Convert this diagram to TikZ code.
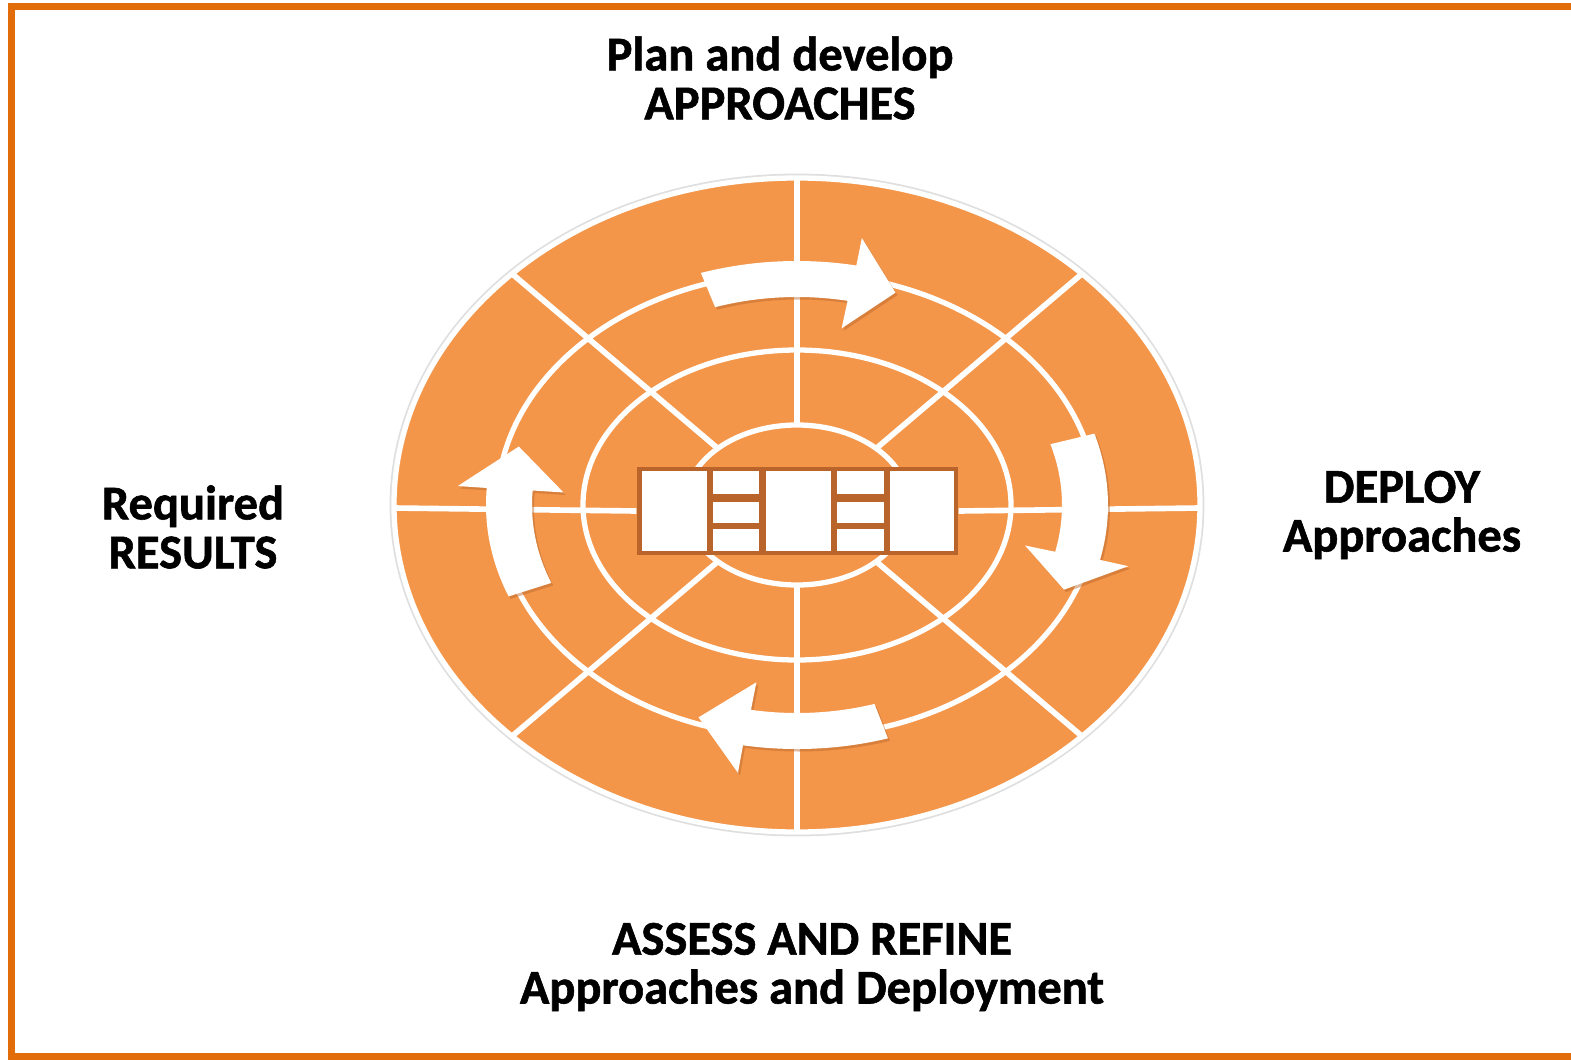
\documentclass[tikz,border=0pt]{standalone}
\usepackage{fontspec}
\setmainfont{Carlito}
\newfontfamily\labelfont[BoldFeatures={FakeBold=1.2}]{Carlito}
\usepackage{tikz}
\usetikzlibrary{positioning}
\definecolor{frameorange}{RGB}{227,108,10}
\definecolor{wheelorange}{RGB}{244,150,74}
\definecolor{hubbrown}{RGB}{184,100,42}

% curved block arrow on the middle track: start angle, head base angle, tip angle
\newcommand{\cyclearrow}[3]{%
  (#1:3.11 and 2.44) arc[start angle=#1, end angle=#2, x radius=3.11, y radius=2.44]
  -- (#2:3.40 and 2.72) -- (#3:2.88 and 2.26) -- (#2:2.34 and 1.80)
  -- (#2:2.65 and 2.08) arc[start angle=#2, end angle=#1, x radius=2.65, y radius=2.08]
  -- cycle}

\begin{document}
\begin{tikzpicture}[
    ringline/.style={draw=white, line width=1.5pt},
    spoke/.style={white, line width=1.6pt},
    lbl/.style={font=\labelfont\bfseries\fontsize{13.8}{13.9}\selectfont, align=center},
    cell/.style={fill=white},
    arrowshadow/.style={fill=hubbrown, opacity=0.45, shift={(0.02,-0.025)}},
  ]
    \useasboundingbox (-7.97,-5.54) rectangle (7.74,5.05);

    % frame
    \draw[frameorange, line width=0.07cm, line join=miter]
      (7.74,4.985) -- (-7.855,4.985) -- (-7.855,-5.515) -- (7.74,-5.515);

    % wheel and rings
    \draw[gray!25, line width=0.8pt] (0,0) ellipse[x radius=4.06, y radius=3.30];
    \fill[wheelorange, ringline] (0,0) ellipse[x radius=4.03, y radius=3.27];
    \draw[ringline] (0,0) ellipse[x radius=3.00, y radius=2.32];
    \draw[ringline] (0,0) ellipse[x radius=2.14, y radius=1.55];

    % spokes
    \draw[spoke] (0,0.80) -- (0,3.27) (0,-0.80) -- (0,-3.27);
    \draw[spoke] (45:1.12 and 0.80) -- (45:4.03 and 3.27)
                 (135:1.12 and 0.80) -- (135:4.03 and 3.27)
                 (225:1.12 and 0.80) -- (225:4.03 and 3.27)
                 (315:1.12 and 0.80) -- (315:4.03 and 3.27);
    \fill[wheelorange, ringline] (0,0) ellipse[x radius=1.12, y radius=0.80];

    % hub in the middle
    \node[fill=hubbrown, minimum width=3.21cm, minimum height=0.88cm, inner sep=0pt]
      (hub) at (0.005,-0.06) {};
    \draw[spoke] (-4.03,-0.03) -- (hub.west);
    \draw[spoke] (hub.east) -- (4.03,-0.03);
    \fill[cell] (-1.55,0.34) rectangle (-0.90,-0.46);
    \fill[cell] (-0.84,0.34) rectangle (-0.38,0.11);
    \fill[cell] (-0.84,0.03) rectangle (-0.38,-0.18);
    \fill[cell] (-0.84,-0.24) rectangle (-0.38,-0.46);
    \fill[cell] (-0.31,0.34) rectangle (0.34,-0.46);
    \fill[cell] (0.40,0.34) rectangle (0.87,0.11);
    \fill[cell] (0.40,0.03) rectangle (0.87,-0.18);
    \fill[cell] (0.40,-0.24) rectangle (0.87,-0.46);
    \fill[cell] (0.93,0.34) rectangle (1.57,-0.46);

    % clockwise arrows
    \fill[arrowshadow] \cyclearrow{108}{79}{70};
    \fill[arrowshadow] \cyclearrow{17}{-13}{-22};
    \fill[arrowshadow] \cyclearrow{-73}{-100}{-110};
    \fill[arrowshadow] \cyclearrow{202}{176}{165};
    \fill[white] \cyclearrow{108}{79}{70};
    \fill[white] \cyclearrow{17}{-13}{-22};
    \fill[white] \cyclearrow{-73}{-100}{-110};
    \fill[white] \cyclearrow{202}{176}{165};

    % labels
    \node[lbl] (plan) at (-0.17,4.27) {Plan and develop\\APPROACHES};
    \node[lbl] (deploy) at (6.05,-0.10) {DEPLOY\\Approaches};
    \node[lbl] (assess) at (0.15,-4.62) {ASSESS AND REFINE\\Approaches and Deployment};
    \node[lbl] (results) at (-6.04,-0.22) {Required\\RESULTS};
  \end{tikzpicture}
\end{document}
